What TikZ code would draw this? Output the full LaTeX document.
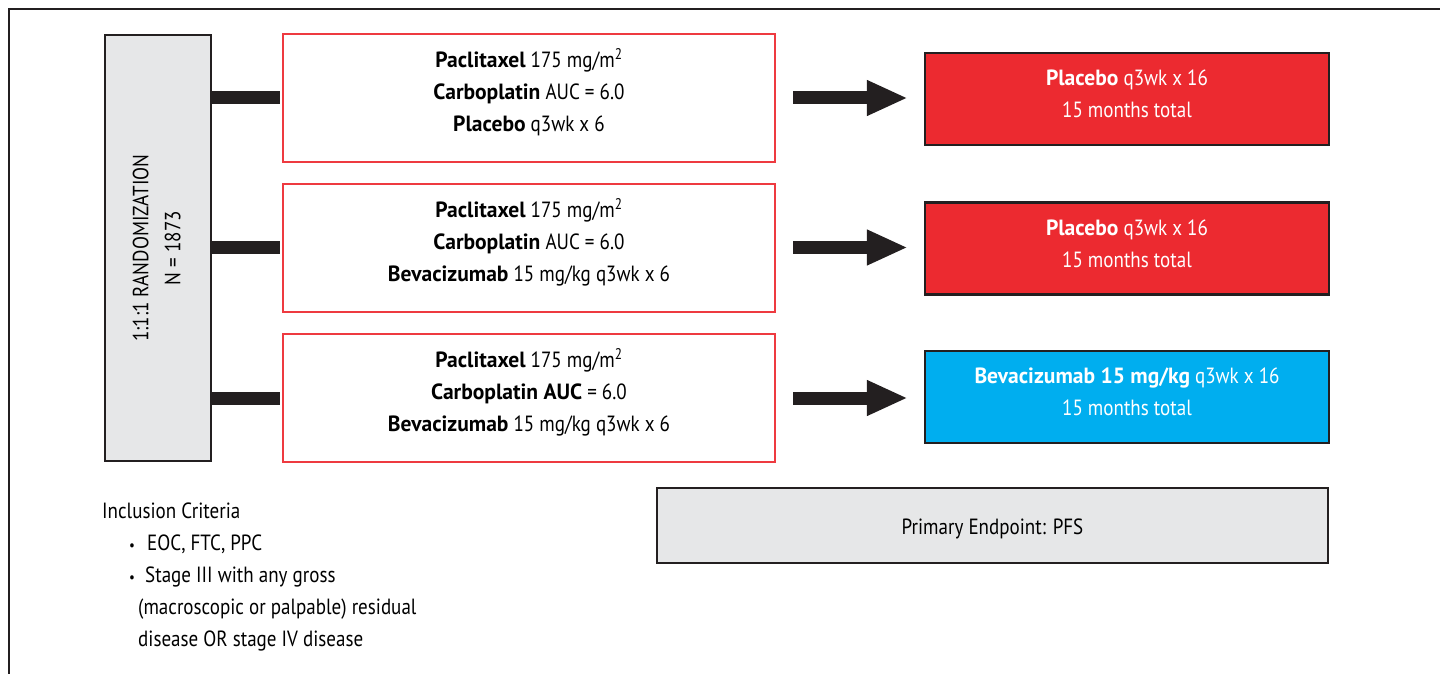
\documentclass[tikz,border=0pt]{standalone}
\usepackage{fontspec}
\usepackage{graphicx}
\setmainfont{PT Sans}[UprightFeatures={FakeStretch=0.865}, BoldFeatures={FakeStretch=0.98}]
\usetikzlibrary{arrows.meta}
\definecolor{dk}{HTML}{231F20}
\definecolor{armred}{HTML}{EE3A40}
\definecolor{resred}{HTML}{EC2A30}
\definecolor{resblue}{HTML}{00AEEF}
\definecolor{lgray}{HTML}{E6E7E8}
\tikzset{
  frame/.style={draw=dk, line width=2.5pt},
  randbox/.style={draw=dk, fill=lgray, line width=2.5pt, minimum width=106pt, minimum height=426pt, inner sep=0pt},
  armbox/.style={draw=armred, fill=white, line width=2pt, minimum width=492pt, minimum height=128pt, align=center, inner sep=0pt, text height=80pt, text depth=13pt},
  resbox/.style={draw=dk, line width=2.5pt, minimum width=404pt, minimum height=92pt, align=center, text=white, inner sep=0pt, text height=45pt, text depth=8pt},
  endbox/.style={draw=dk, fill=lgray, line width=2.5pt, minimum width=671pt, minimum height=75pt, align=center, inner sep=0pt, text height=18pt, text depth=0pt},
  bar/.style={draw=dk, line width=13pt, line cap=butt, shorten >=2pt},
  fatarrow/.style={draw=dk, line width=13pt, line cap=butt, shorten <=17pt, shorten >=16pt,
    -{Triangle[length=41pt, width=33pt]}},
  txt/.style={font=\fontsize{22}{32}\selectfont}
}
\newcommand{\smbullet}{{\fontsize{15}{15}\selectfont\textbullet}}
\begin{document}
\begin{tikzpicture}[x=1pt, y=-1pt, every node/.style={txt}]
\useasboundingbox (0,0) rectangle (1440,674);
\draw[frame] (9,674) -- (9,9) -- (1440,9);

\node[randbox] (rand) at (158,248) {\rotatebox{90}{\begin{tabular}{@{}c@{}}1:1:1 RANDOMIZATION\\N = 1873\end{tabular}}};

\node[armbox] (arm1) at (529,98) {\textbf{Paclitaxel} 175 mg/m\textsuperscript{2}\\\textbf{Carboplatin} AUC = 6.0\\\textbf{Placebo} q3wk x 6};
\node[armbox] (arm2) at (529,247.5) {\textbf{Paclitaxel} 175 mg/m\textsuperscript{2}\\\textbf{Carboplatin} AUC = 6.0\\\textbf{Bevacizumab} 15 mg/kg q3wk x 6};
\node[armbox] (arm3) at (529,398) {\textbf{Paclitaxel} 175 mg/m\textsuperscript{2}\\\textbf{Carboplatin AUC} = 6.0\\\textbf{Bevacizumab} 15 mg/kg q3wk x 6};

\node[resbox, fill=resred] (res1) at (1127,99) {\textbf{Placebo} q3wk x 16\\15 months total};
\node[resbox, fill=resred] (res2) at (1127,248.5) {\textbf{Placebo} q3wk x 16\\15 months total};
\node[resbox, fill=resblue] (res3) at (1127,397) {\textbf{Bevacizumab 15 mg/kg} q3wk x 16\\15 months total};

\node[endbox] (end) at (992.5,525.5) {Primary Endpoint: PFS};

\node[anchor=north west, align=left, inner sep=0pt] (incl) at (102,502.5) {Inclusion Criteria\\
\hspace*{27pt}\makebox[18pt][l]{\smbullet}EOC, FTC, PPC\\
\hspace*{27pt}\makebox[16pt][l]{\smbullet}Stage III with any gross\\
\hspace*{36pt}(macroscopic or palpable) residual\\
\hspace*{36pt}disease OR stage IV disease};

\foreach \i in {1,2,3} {
  \draw[bar] (rand.east |- arm\i.west) -- (arm\i.west);
  \draw[fatarrow] (arm\i.east) -- (arm\i.east -| res\i.west);
}
\end{tikzpicture}
\end{document}
